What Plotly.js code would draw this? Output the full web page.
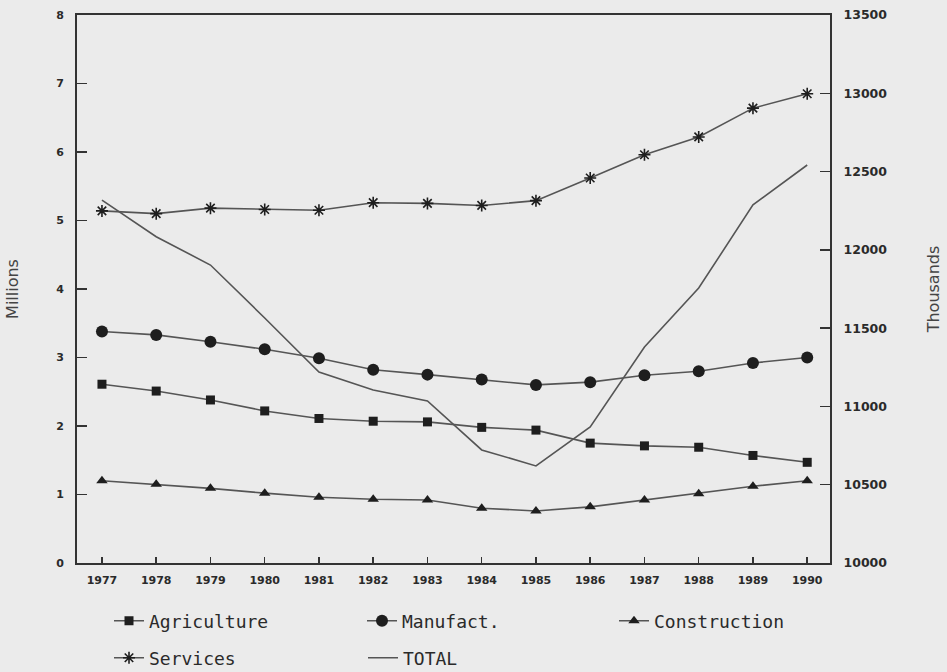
<!DOCTYPE html>
<html>
<head>
<meta charset="utf-8">
<script src="https://cdn.plot.ly/plotly-3.0.1.min.js"></script>
<style>
  html, body { margin: 0; padding: 0; background: #ebebeb; }
  #chart { width: 947px; height: 672px; }
</style>
</head>
<body>
<div id="chart"></div>
<script>
// ---- data ----
const years = [1977, 1978, 1979, 1980, 1981, 1982, 1983, 1984, 1985, 1986, 1987, 1988, 1989, 1990];
// millions (left axis)
const agriculture  = [2.61, 2.51, 2.38, 2.22, 2.11, 2.07, 2.06, 1.98, 1.94, 1.75, 1.71, 1.69, 1.57, 1.47];
const manufact     = [3.38, 3.33, 3.23, 3.12, 2.99, 2.82, 2.75, 2.68, 2.60, 2.64, 2.74, 2.80, 2.92, 3.00];
const construction = [1.20, 1.15, 1.09, 1.02, 0.96, 0.93, 0.92, 0.80, 0.76, 0.82, 0.92, 1.01, 1.12, 1.20];
const services     = [5.14, 5.10, 5.18, 5.16, 5.15, 5.26, 5.25, 5.22, 5.29, 5.62, 5.96, 6.22, 6.64, 6.85];
// thousands (right axis)
const total        = [12318, 12084, 11903, 11565, 11220, 11105, 11035, 10722, 10620, 10869, 11380, 11756, 12287, 12542];

const leftTicks  = [0, 1, 2, 3, 4, 5, 6, 7, 8];
const rightTicks = [10000, 10500, 11000, 11500, 12000, 12500, 13000, 13500];

const lineCol = '#555555';
const markCol = '#1e1e1e';

function series(name, y, symbol, size, legend) {
  return {
    x: years, y: y, name: name, type: 'scatter', mode: 'lines+markers',
    line: { color: lineCol, width: 1.6 },
    marker: { symbol: symbol, size: size, color: markCol,
              line: { color: markCol, width: symbol.indexOf('asterisk') === 0 ? 1.6 : 0 } },
    legend: legend, hoverinfo: 'skip'
  };
}

const traces = [
  series('Agriculture', agriculture, 'square', 9, 'legend'),
  series('Manufact.', manufact, 'circle', 12, 'legend2'),
  series('Construction', construction, 'triangle-up', 10, 'legend3'),
  series('Services', services, 'asterisk-open', 10, 'legend4'),
  {
    x: years, y: total, name: 'TOTAL', type: 'scatter', mode: 'lines',
    yaxis: 'y2', line: { color: lineCol, width: 1.6 }, legend: 'legend5', hoverinfo: 'skip'
  }
];

const tickFont = { family: 'DejaVu Sans', size: 11, color: '#2a2a2a', weight: 'bold' };
const legFont = { family: 'DejaVu Sans Mono', size: 18, color: '#2a2a2a' };

function leg(xpx, ypx) {
  return {
    orientation: 'h', xref: 'container', yref: 'container',
    x: xpx / 947, xanchor: 'left', y: 1 - ypx / 672, yanchor: 'middle',
    font: legFont, bgcolor: 'rgba(0,0,0,0)', borderwidth: 0
  };
}

const layout = {
  width: 947, height: 672,
  margin: { l: 77, r: 117, t: 15, b: 109 },
  paper_bgcolor: '#ebebeb', plot_bgcolor: '#ebebeb',
  showlegend: true,
  xaxis: {
    range: [1976.54, 1990.42], tickvals: years, ticktext: years.map(String),
    ticks: 'inside', ticklen: 6, tickwidth: 1.5, tickcolor: '#333',
    showline: true, mirror: true, linecolor: '#333', linewidth: 2,
    showgrid: false, zeroline: false, tickfont: tickFont, ticklabelstandoff: 6
  },
  yaxis: {
    range: [0, 8], tickvals: leftTicks, ticktext: leftTicks.map(String),
    ticks: 'inside', ticklen: 10, tickwidth: 1.5, tickcolor: '#333',
    showline: true, linecolor: '#333', linewidth: 2, showgrid: false, zeroline: false,
    tickfont: tickFont, ticklabelstandoff: 9,
    title: { text: 'Millions', font: { family: 'DejaVu Sans', size: 16, color: '#444' }, standoff: 34 }
  },
  yaxis2: {
    range: [10000, 13500], tickvals: rightTicks, ticktext: rightTicks.map(String),
    overlaying: 'y', side: 'right',
    ticks: 'inside', ticklen: 10, tickwidth: 1.5, tickcolor: '#333',
    showline: true, linecolor: '#333', linewidth: 2, showgrid: false, zeroline: false,
    tickfont: { family: 'DejaVu Sans', size: 12.5, color: '#2a2a2a', weight: 'bold' }, ticklabelstandoff: 9,
    title: { text: 'Thousands', font: { family: 'DejaVu Sans', size: 16, color: '#444' }, standoff: 42 }
  },
  legend:  leg(109, 621),
  legend2: leg(362, 621),
  legend3: leg(614, 621),
  legend4: leg(109, 658),
  legend5: leg(363, 658)
};

Plotly.newPlot('chart', traces, layout, { displayModeBar: false, staticPlot: true });
</script>
</body>
</html>
